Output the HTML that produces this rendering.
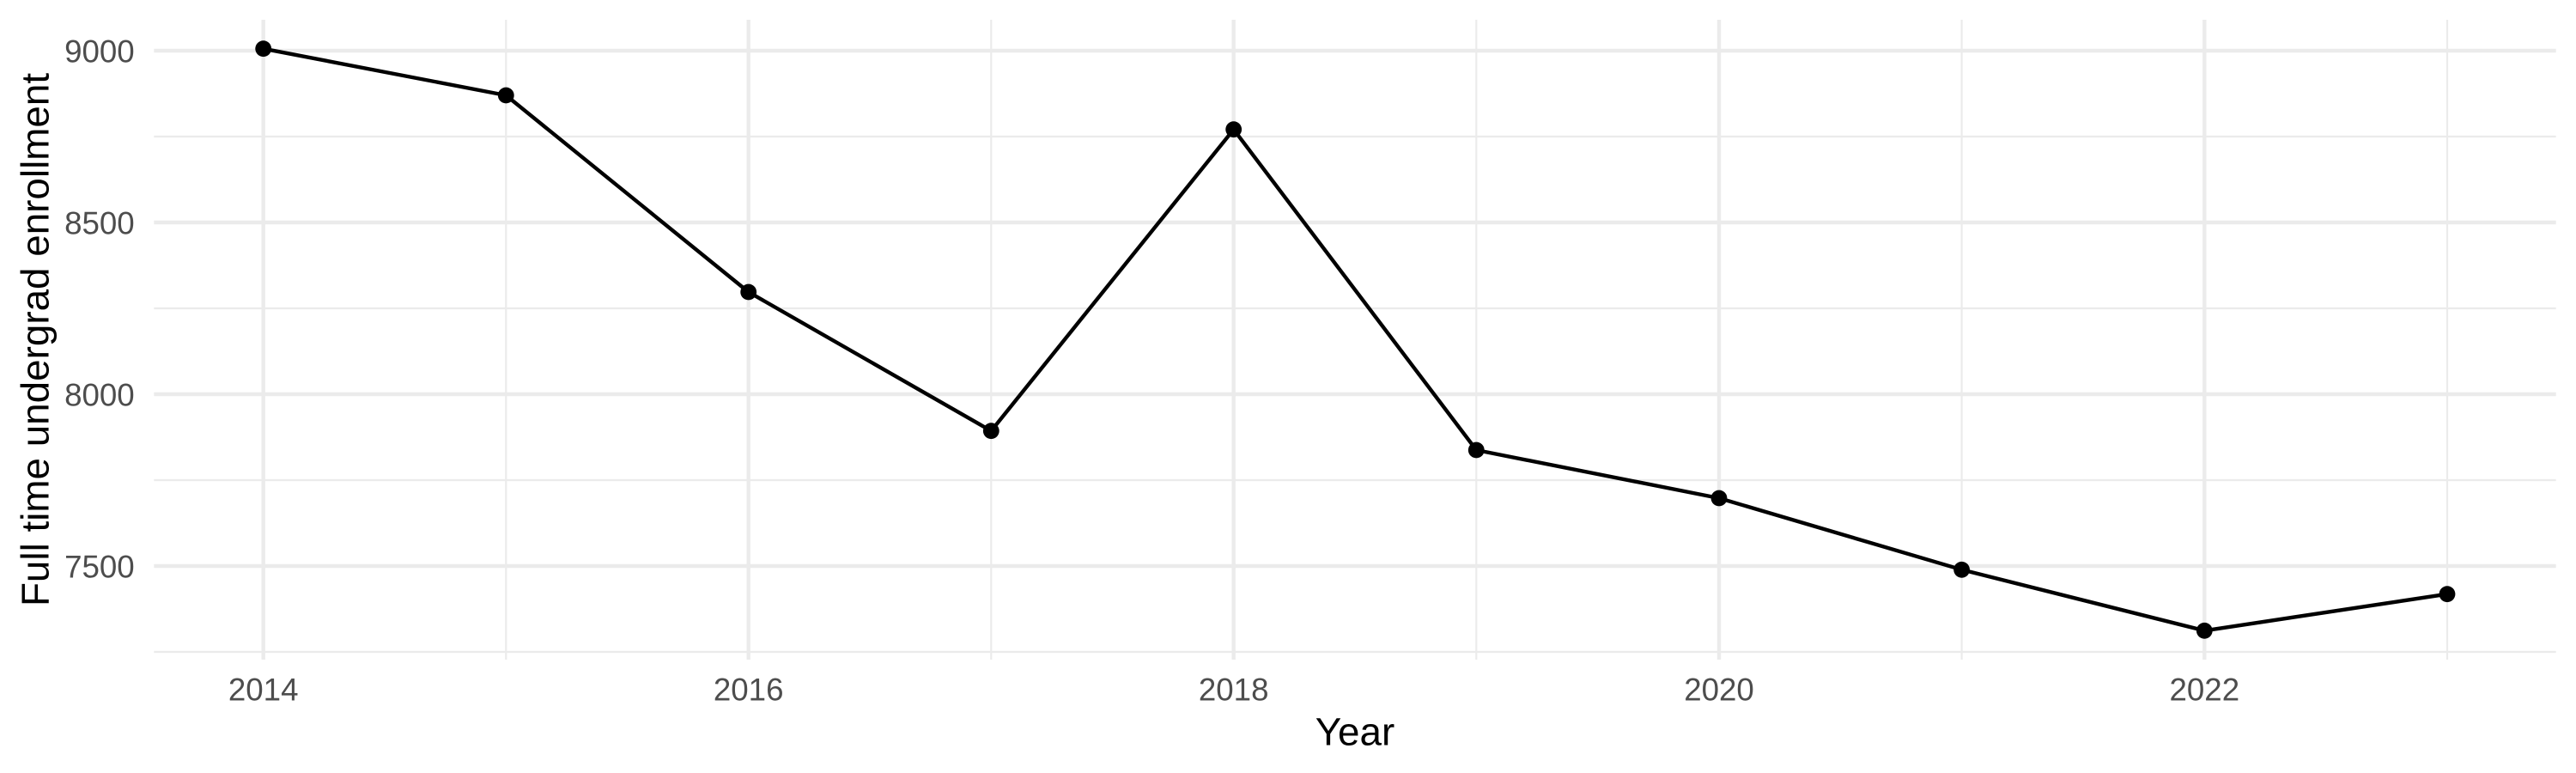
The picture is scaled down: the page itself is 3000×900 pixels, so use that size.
<!DOCTYPE html>
<html>
<head>
<meta charset="utf-8">
<style>
html,body{margin:0;padding:0;background:#fff;}
svg{display:block;}
text{font-family:"Liberation Sans",Arial,sans-serif;}
</style>
</head>
<body>
<svg width="3000" height="900" viewBox="0 0 3000 900" xmlns="http://www.w3.org/2000/svg">
<rect x="0" y="0" width="3000" height="900" fill="#fff"/>
<!-- minor grid -->
<g stroke="#EBEBEB" stroke-width="2.2" fill="none">
<line x1="179.3" y1="159" x2="2976.7" y2="159"/>
<line x1="179.3" y1="359" x2="2976.7" y2="359"/>
<line x1="179.3" y1="559" x2="2976.7" y2="559"/>
<line x1="179.3" y1="759" x2="2976.7" y2="759"/>
<line x1="589.3" y1="23" x2="589.3" y2="768"/>
<line x1="1154.3" y1="23" x2="1154.3" y2="768"/>
<line x1="1719.3" y1="23" x2="1719.3" y2="768"/>
<line x1="2284.6" y1="23" x2="2284.6" y2="768"/>
<line x1="2850" y1="23" x2="2850" y2="768"/>
</g>
<!-- major grid -->
<g stroke="#EBEBEB" stroke-width="4.4" fill="none">
<line x1="179.3" y1="59" x2="2976.7" y2="59"/>
<line x1="179.3" y1="259" x2="2976.7" y2="259"/>
<line x1="179.3" y1="459" x2="2976.7" y2="459"/>
<line x1="179.3" y1="659" x2="2976.7" y2="659"/>
<line x1="306.7" y1="23" x2="306.7" y2="768"/>
<line x1="871.7" y1="23" x2="871.7" y2="768"/>
<line x1="1436.7" y1="23" x2="1436.7" y2="768"/>
<line x1="2002" y1="23" x2="2002" y2="768"/>
<line x1="2567.3" y1="23" x2="2567.3" y2="768"/>
</g>
<!-- data line -->
<polyline fill="none" stroke="#000" stroke-width="4.4" stroke-linejoin="round" stroke-linecap="butt"
points="306.7,56.7 589.3,111 871.7,340 1154.3,501.7 1436.7,150.7 1719.3,524 2002,580 2284.6,663.3 2567.3,734.3 2850,691.7"/>
<g fill="#000">
<circle cx="306.7" cy="56.7" r="9.4"/>
<circle cx="589.3" cy="111" r="9.4"/>
<circle cx="871.7" cy="340" r="9.4"/>
<circle cx="1154.3" cy="501.7" r="9.4"/>
<circle cx="1436.7" cy="150.7" r="9.4"/>
<circle cx="1719.3" cy="524" r="9.4"/>
<circle cx="2002" cy="580" r="9.4"/>
<circle cx="2284.6" cy="663.3" r="9.4"/>
<circle cx="2567.3" cy="734.3" r="9.4"/>
<circle cx="2850" cy="691.7" r="9.4"/>
</g>
<!-- y tick labels -->
<g fill="#4D4D4D" font-size="36.7" text-anchor="end">
<text x="156.7" y="72.3">9000</text>
<text x="156.7" y="272.3">8500</text>
<text x="156.7" y="472.3">8000</text>
<text x="156.7" y="672.3">7500</text>
</g>
<!-- x tick labels -->
<g fill="#4D4D4D" font-size="36.7" text-anchor="middle">
<text x="306.7" y="815.5">2014</text>
<text x="871.7" y="815.5">2016</text>
<text x="1436.7" y="815.5">2018</text>
<text x="2002" y="815.5">2020</text>
<text x="2567.3" y="815.5">2022</text>
</g>
<!-- axis titles -->
<text x="1578" y="867.3" font-size="45.8" fill="#000" text-anchor="middle">Year</text>
<text transform="translate(56.7,395.5) rotate(-90)" font-size="45.8" fill="#000" text-anchor="middle">Full time undergrad enrollment</text>
</svg>
</body>
</html>
